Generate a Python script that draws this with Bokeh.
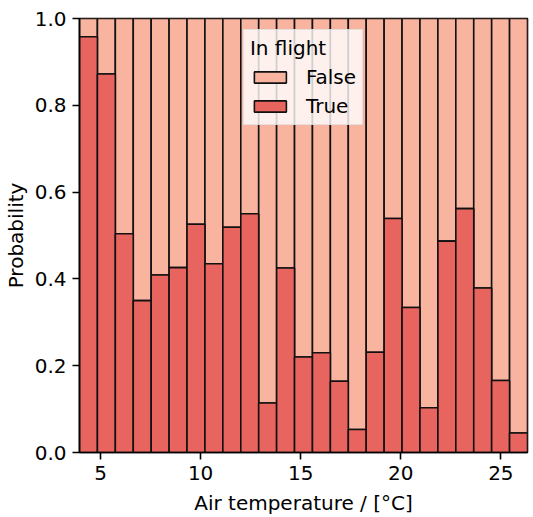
from bokeh.plotting import figure
from bokeh.models import Range1d, Legend, LegendItem, FixedTicker, PrintfTickFormatter, ColumnDataSource
from bokeh.embed import file_html
from bokeh.resources import INLINE

# Data: fraction "In flight == True" per air temperature bin
p_true = [0.958, 0.872, 0.504, 0.350, 0.409, 0.426, 0.526, 0.435, 0.519, 0.550,
          0.114, 0.425, 0.220, 0.230, 0.164, 0.053, 0.231, 0.539, 0.334, 0.103,
          0.487, 0.562, 0.379, 0.166, 0.045]
bin_start = 3.95
bin_width = 0.8952
x_ticks = [5, 10, 15, 20, 25]
y_ticks = [0.0, 0.2, 0.4, 0.6, 0.8, 1.0]
hue_labels = ["False", "True"]
hue_colors = ["#f9b4a0", "#e8655f"]

n = len(p_true)
centers = [bin_start + (i + 0.5) * bin_width for i in range(n)]
src = ColumnDataSource(dict(x=centers, t=p_true, one=[1.0] * n, zero=[0.0] * n))

FONT = "DejaVu Sans"

p = figure(width=533, height=517, output_backend="svg", toolbar_location=None,
           x_range=Range1d(bin_start, bin_start + n * bin_width), y_range=Range1d(0, 1),
           min_border_left=78, min_border_right=6, min_border_top=18, min_border_bottom=63)

r_false = p.vbar(x="x", width=bin_width, bottom="t", top="one", source=src,
                 fill_color=hue_colors[0], line_color="#111111", line_width=1.6)
r_true = p.vbar(x="x", width=bin_width, bottom="zero", top="t", source=src,
                fill_color=hue_colors[1], line_color="#111111", line_width=1.6)

p.xgrid.visible = False
p.ygrid.visible = False
p.outline_line_color = "black"
p.outline_line_width = 1.6
p.background_fill_color = "white"

for ax in (p.xaxis[0], p.yaxis[0]):
    ax.axis_line_color = "black"
    ax.axis_line_width = 1.6
    ax.major_tick_line_color = "black"
    ax.major_tick_line_width = 1.6
    ax.major_tick_out = 7
    ax.major_tick_in = 0
    ax.minor_tick_line_color = None
    ax.major_label_text_font = FONT
    ax.major_label_text_font_size = "20px"
    ax.major_label_text_color = "black"
    ax.axis_label_text_font = FONT
    ax.axis_label_text_font_size = "20px"
    ax.axis_label_text_font_style = "normal"
    ax.axis_label_text_color = "black"
    ax.major_label_standoff = 6

p.xaxis.ticker = FixedTicker(ticks=x_ticks)
p.yaxis.ticker = FixedTicker(ticks=y_ticks)
p.yaxis.formatter = PrintfTickFormatter(format="%.1f")
p.xaxis.axis_label = "Air temperature / [°C]"
p.yaxis.axis_label = "Probability"
p.xaxis.axis_label_standoff = 8
p.yaxis.axis_label_standoff = 4

legend = Legend(items=[LegendItem(label=hue_labels[0], renderers=[r_false]),
                       LegendItem(label=hue_labels[1], renderers=[r_true])],
                location="top_center", title="In flight")
legend.title_text_font = FONT
legend.title_text_font_size = "20px"
legend.title_text_font_style = "normal"
legend.title_text_color = "black"
legend.title_text_align = "center"
legend.title_standoff = 5
legend.label_text_font = FONT
legend.label_text_font_size = "20px"
legend.label_text_color = "black"
legend.glyph_width = 40
legend.glyph_height = 14
legend.label_standoff = 16
legend.label_height = 20
legend.spacing = 5
legend.padding = 6
legend.margin = 11
legend.background_fill_color = "white"
legend.background_fill_alpha = 0.8
legend.border_line_color = "#cccccc"
legend.border_line_width = 1.5
p.add_layout(legend)

open("out.html", "w").write(file_html(p, INLINE))
